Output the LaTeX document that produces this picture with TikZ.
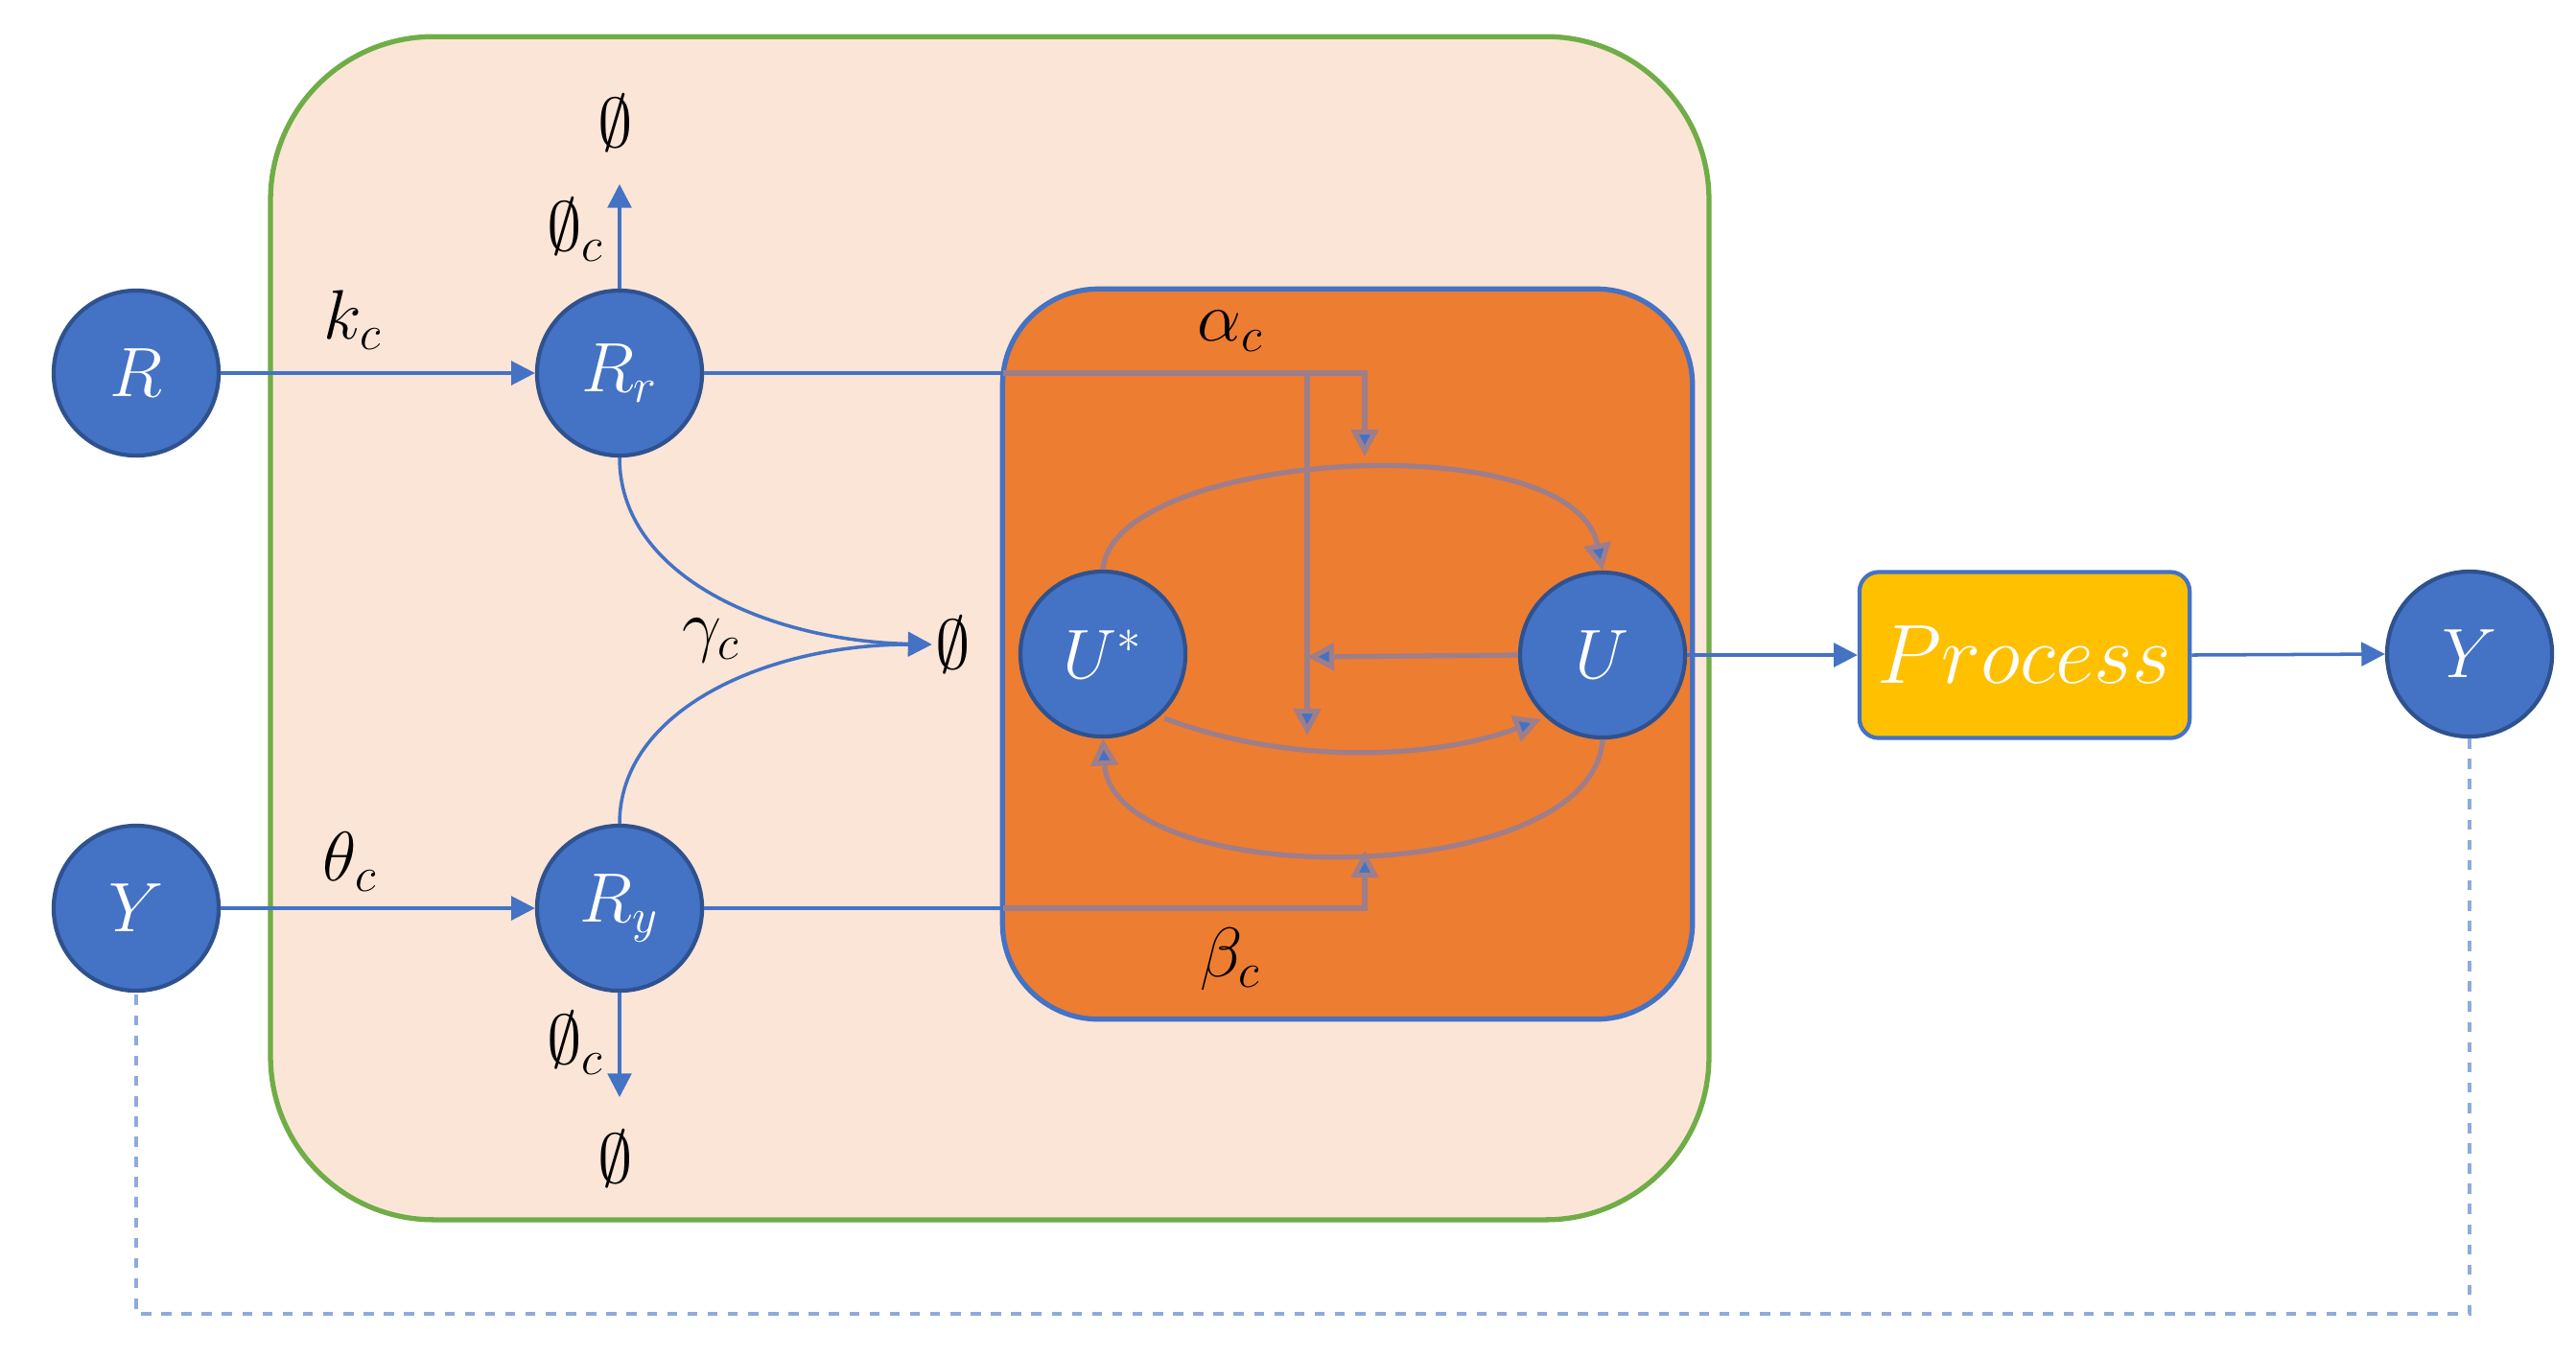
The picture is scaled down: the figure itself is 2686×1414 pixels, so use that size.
\documentclass[tikz,border=0pt]{standalone}
\usepackage{amssymb}
\usetikzlibrary{arrows.meta}
\definecolor{cblue}{HTML}{4472C4}
\definecolor{cdark}{HTML}{2F528F}
\definecolor{peach}{HTML}{FBE5D6}
\definecolor{cgreen}{HTML}{70AD47}
\definecolor{corange}{HTML}{ED7D31}
\definecolor{cgold}{HTML}{FFC000}
\definecolor{inl}{HTML}{9E7E8A}
\begin{document}
\begin{tikzpicture}[x=0.01cm,y=-0.01cm,
  st/.style={circle,fill=cblue,draw=cdark,line width=1.2pt,minimum size=1.72cm,inner sep=0pt,text=white,font=\fontsize{22}{26}\selectfont},
  lab/.style={font=\fontsize{22}{26}\selectfont,inner sep=1pt},
  ar/.style={draw=cblue,line width=1pt,-{Triangle[width=7pt,length=7pt]}},
  arin/.style={draw=inl,line width=1.5pt,-{Triangle[width=8pt,length=8pt,fill=cblue]}},
  ln/.style={draw=cblue,line width=1pt}]
\useasboundingbox (0,0) rectangle (2686,1414);
\fill[white] (0,0) rectangle (2686,1414);
\node[draw=cgreen,fill=peach,line width=1.5pt,rounded corners=0.17cm*10,minimum width=14.99cm,minimum height=12.33cm,inner sep=0pt] (green) at (1032,655) {};
\node[draw=cblue,fill=corange,line width=1.5pt,rounded corners=1cm,minimum width=7.19cm,minimum height=7.61cm,inner sep=0pt] (orange) at (1405,682) {};
\node[st] (R) at (142,389) {$R$};
\node[st] (Rr) at (646,389) {$R_r$};
\node[st] (Yl) at (142,947) {$Y$};
\node[st] (Ry) at (646,947) {$R_y$};
\node[st] (Us) at (1150,682) {$U^*$};
\node[st] (U) at (1671,683) {$U$};
\node[st] (Yr) at (2575,682) {$Y$};
\node[draw=cblue,fill=cgold,line width=1.2pt,rounded corners=0.2cm,minimum width=3.44cm,minimum height=1.73cm,text=white,font=\fontsize{24}{28}\selectfont] (P) at (2111,683) {$Process$};
\node[lab] (e0) at (994,672) {$\emptyset$};
\node[lab] (eT) at (642,128) {$\emptyset$};
\node[lab] (eB) at (642,1208) {$\emptyset$};
\node[lab] at (600,240) {$\emptyset_c$};
\node[lab] at (600,1088) {$\emptyset_c$};
\node[lab] at (368,334) {$k_c$};
\node[lab] at (365,899) {$\theta_c$};
\node[lab] at (742,668) {$\gamma_c$};
\node[lab] at (1283,345) {$\alpha_c$};
\node[lab] at (1283,1000) {$\beta_c$};
\coordinate (aT) at (1423,476);
\coordinate (aB) at (1423,887);
\coordinate (mid) at (1363,685);
\coordinate (mdown) at (1363,767);
\coordinate (eTa) at (646,192);
\coordinate (eBa) at (646,1144);
\coordinate (dR) at (2575,1370);
\coordinate (dL) at (142,1370);
\draw[ar] (R) -- (Rr);
\draw[ar] (Yl) -- (Ry);
\draw[ar] (Rr.north) -- (eTa);
\draw[ar] (Ry.south) -- (eBa);
\draw[ar] (Rr.south) .. controls (646,600) and (800,668) .. (e0.west);
\draw[ar] (Ry.north) .. controls (646,740) and (800,672) .. (e0.west);
\draw[ln] (Rr.east) -- (1046,389);
\draw[ln] (Ry.east) -- (1046,947);
\draw[arin] (1046,389) -| (aT);
\draw[arin] (1363,389) -- (mdown);
\draw[arin] (U.west) -- (mid);
\draw[arin] (1046,947) -| (aB);
\draw[arin] (Us.north) .. controls (1160,470) and (1640,440) .. (U.north);
\draw[arin] (1214,749) .. controls (1350,800) and (1500,790) .. (1607,750);
\draw[arin] (U.south) .. controls (1660,930) and (1160,930) .. (Us.south);
\draw[ar] (U.east) -- (P.west);
\draw[ar] (P.east) -- (Yr.west);
\draw[draw=cblue!60,line width=1pt,dashed] (Yr.south) -- (dR) -- (dL) -- (Yl.south);
\end{tikzpicture}
\end{document}
